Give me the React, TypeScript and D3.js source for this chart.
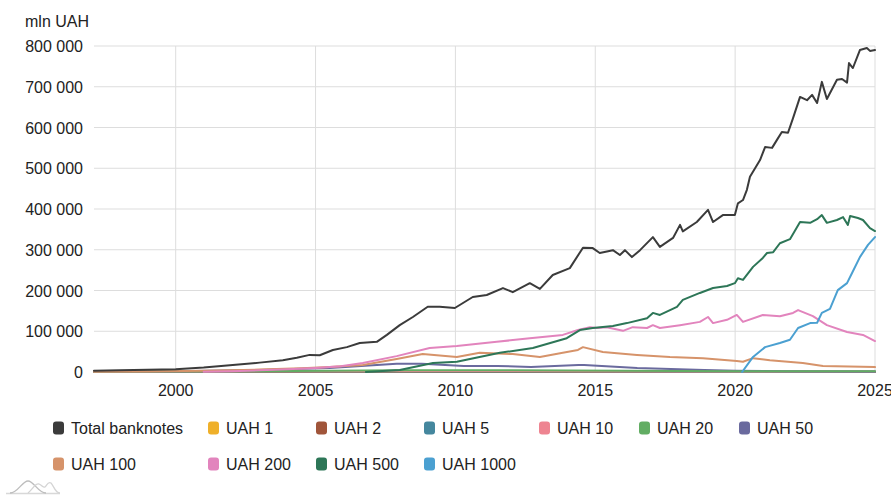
import React from "react";
import * as d3 from "d3";

// ---------- DATA (year, mln UAH) ----------
const totalBanknotes: [number, number][] = [
  [1997.08, 3000], [1998.0, 4500], [1999.0, 5500], [2000.0, 7000], [2001.0, 11000], [2002.04, 17000],
  [2003.0, 23000], [2003.83, 29000], [2004.33, 35000], [2004.79, 42000], [2005.15, 41000],
  [2005.62, 54000], [2006.12, 61000], [2006.58, 71000], [2007.19, 74000], [2007.55, 91000],
  [2008.01, 115000], [2008.48, 135000], [2009.01, 160000], [2009.44, 160000], [2009.98, 157000],
  [2010.62, 184000], [2011.12, 189000], [2011.7, 206000], [2012.05, 196000], [2012.66, 218000],
  [2013.02, 204000], [2013.48, 238000], [2014.09, 255000], [2014.56, 305000], [2014.91, 304000],
  [2015.16, 292000], [2015.63, 299000], [2015.88, 287000], [2016.06, 299000], [2016.31, 282000],
  [2016.6, 299000], [2017.06, 331000], [2017.31, 307000], [2017.78, 329000], [2018.03, 361000],
  [2018.13, 345000], [2018.63, 368000], [2019.03, 398000], [2019.21, 368000], [2019.56, 385000],
  [2019.99, 385000], [2020.1, 414000], [2020.28, 422000], [2020.42, 447000], [2020.53, 479000],
  [2020.89, 520000], [2021.07, 552000], [2021.32, 550000], [2021.49, 569000], [2021.67, 589000],
  [2021.89, 587000], [2022.07, 623000], [2022.32, 675000], [2022.57, 667000], [2022.75, 680000],
  [2022.93, 660000], [2023.1, 712000], [2023.28, 670000], [2023.64, 717000], [2023.82, 719000],
  [2024.0, 710000], [2024.07, 758000], [2024.21, 746000], [2024.46, 790000], [2024.71, 795000],
  [2024.82, 788000], [2025.0, 790000],
];
const uah1: [number, number][] = [
  [1997.08, 600], [2005.0, 700], [2010.0, 600], [2015.0, 400], [2020.0, 200], [2025.0, 100],
];
const uah2: [number, number][] = [
  [1997.08, 500], [2005.0, 600], [2010.0, 600], [2015.0, 500], [2020.0, 400], [2025.0, 300],
];
const uah5: [number, number][] = [
  [1997.08, 800], [2005.0, 1000], [2010.0, 1200], [2015.0, 1000], [2020.0, 800], [2025.0, 700],
];
const uah10: [number, number][] = [
  [1997.08, 1000], [2005.0, 2000], [2010.0, 2500], [2015.0, 2000], [2020.0, 1500], [2025.0, 1000],
];
const uah20: [number, number][] = [
  [1997.08, 1000], [2003.0, 2000], [2008.0, 4000], [2012.0, 4000], [2016.0, 3000], [2020.0, 2000], [2025.0, 2000],
];
const uah50: [number, number][] = [
  [1997.08, 500], [2000.0, 2000], [2003.0, 5000], [2005.5, 10000], [2007.9, 20000], [2008.8, 20000],
  [2010.3, 15000], [2011.5, 15000], [2012.7, 12000], [2014.4, 17000], [2014.6, 17000],
  [2016.5, 10000], [2018.9, 5000], [2020.0, 3000], [2022.0, 2000], [2025.0, 1500],
];
const uah100: [number, number][] = [
  [1997.08, 500], [1999.0, 1500], [2001.0, 3000], [2003.0, 6000], [2004.5, 9000], [2005.5, 12000],
  [2006.69, 17000], [2007.9, 32000], [2008.83, 44000], [2010.05, 37000], [2010.87, 47000],
  [2012.05, 44000], [2013.02, 37000], [2013.84, 47000], [2014.38, 54000], [2014.56, 61000],
  [2015.27, 49000], [2016.49, 42000], [2017.67, 37000], [2018.85, 34000], [2020.06, 27000],
  [2020.28, 25000], [2020.64, 34000], [2021.24, 29000], [2022.42, 22000], [2023.14, 15000],
  [2025.0, 12000],
];
const uah200: [number, number][] = [
  [2001.0, 500], [2002.0, 2000], [2003.0, 4000], [2004.0, 7000], [2005.0, 10000], [2005.9, 14000],
  [2006.69, 22000], [2007.9, 39000], [2009.08, 59000], [2010.05, 64000], [2011.48, 74000],
  [2012.66, 83000], [2013.84, 91000], [2014.38, 103000], [2014.81, 110000], [2015.06, 108000],
  [2015.41, 110000], [2015.99, 101000], [2016.34, 110000], [2016.85, 108000], [2017.06, 115000],
  [2017.31, 108000], [2018.03, 115000], [2018.74, 123000], [2019.03, 135000], [2019.21, 120000],
  [2019.71, 128000], [2020.06, 140000], [2020.28, 123000], [2020.99, 140000], [2021.6, 137000],
  [2022.07, 145000], [2022.25, 152000], [2022.78, 137000], [2023.28, 115000], [2024.0, 98000],
  [2024.57, 91000], [2025.0, 76000],
];
const uah500: [number, number][] = [
  [2006.8, 0], [2008.01, 5000], [2009.2, 22000], [2010.05, 25000], [2011.59, 47000],
  [2012.77, 59000], [2013.98, 83000], [2014.45, 103000], [2014.91, 108000], [2015.63, 113000],
  [2016.13, 120000], [2016.85, 132000], [2017.06, 145000], [2017.31, 140000],
  [2017.92, 160000], [2018.13, 177000], [2018.74, 194000], [2019.21, 206000], [2019.71, 211000],
  [2019.99, 218000], [2020.1, 230000], [2020.28, 226000], [2020.64, 258000], [2020.99, 280000],
  [2021.14, 292000], [2021.36, 294000], [2021.6, 316000], [2021.96, 326000], [2022.32, 368000],
  [2022.68, 366000], [2022.93, 375000], [2023.1, 385000], [2023.28, 366000], [2023.64, 373000],
  [2023.86, 380000], [2024.03, 361000], [2024.11, 383000], [2024.39, 378000], [2024.57, 373000],
  [2024.82, 353000], [2025.0, 346000],
];
const uah1000: [number, number][] = [
  [2020.25, 0], [2020.64, 37000], [2021.07, 61000], [2021.6, 71000], [2021.96, 79000],
  [2022.25, 108000], [2022.68, 120000], [2022.93, 121000], [2023.1, 145000], [2023.39, 155000],
  [2023.67, 201000], [2024.0, 218000], [2024.18, 243000], [2024.46, 282000], [2024.75, 312000],
  [2025.0, 331000],
];

const seriesNames = ["Total banknotes", "UAH 1", "UAH 2", "UAH 5", "UAH 10", "UAH 20", "UAH 50", "UAH 100", "UAH 200", "UAH 500", "UAH 1000"];
const seriesData = [totalBanknotes, uah1, uah2, uah5, uah10, uah20, uah50, uah100, uah200, uah500, uah1000];
const seriesColors = ["#3b3b3b", "#efb02a", "#a0553a", "#45879e", "#ee8491", "#62ad63", "#6a6a9e", "#d6936a", "#e284bd", "#2d7657", "#4ba0d1"];
const yTicks = [0, 100000, 200000, 300000, 400000, 500000, 600000, 700000, 800000];
const xTicks = [2000, 2005, 2010, 2015, 2020, 2025];
const yAxisTitle = "mln UAH";

// ---------- LAYOUT ----------
const W = 891, H = 500;
const FONT = "'Liberation Sans', Arial, sans-serif";
const legendCols = [53, 208, 316, 424, 539, 639, 739];
const legendRows = [428, 464];

export default function App() {
  const x = d3.scaleLinear().domain([1997.08, 2025]).range([94, 875]);
  const y = d3.scaleLinear().domain([0, 800000]).range([372, 46]);
  const line = d3.line<[number, number]>().x((d) => x(d[0])).y((d) => y(d[1]));
  const fmt = (v: number) => d3.format(",")(v).replace(/,/g, " ");

  const drawOrder = [1, 2, 3, 4, 6, 5, 7, 8, 9, 10, 0];

  return (
    <svg width={W} height={H} style={{ position: "absolute", left: 0, top: 0, fontFamily: FONT }}>
      <rect x={0} y={0} width={W} height={H} fill="#fff" />
      {/* grid */}
      {yTicks.map((t) => (
        <line key={"gy" + t} x1={94} x2={875} y1={y(t)} y2={y(t)} stroke="#dddddd" strokeWidth={1} />
      ))}
      {xTicks.map((t) => (
        <line key={"gx" + t} x1={x(t)} x2={x(t)} y1={46} y2={372} stroke="#dddddd" strokeWidth={1} />
      ))}
      {/* y labels */}
      <text x={25} y={27} fontSize={16} fill="#222">{yAxisTitle}</text>
      {yTicks.map((t) => (
        <text key={"ty" + t} x={83} y={y(t) + 6} fontSize={16} fill="#222" textAnchor="end">{fmt(t)}</text>
      ))}
      {xTicks.map((t) => (
        <text key={"tx" + t} x={x(t)} y={396} fontSize={16} fill="#222" textAnchor="middle">{t}</text>
      ))}
      {/* lines */}
      {drawOrder.map((i) => (
        <path key={"l" + i} d={line(seriesData[i]) || ""} fill="none" stroke={seriesColors[i]} strokeWidth={2} strokeLinejoin="round" strokeLinecap="round" />
      ))}
      {/* legend */}
      {seriesNames.map((name, i) => {
        const row = i < 7 ? 0 : 1;
        const col = i < 7 ? i : i - 7;
        const lx = legendCols[col];
        const ly = legendRows[row];
        return (
          <g key={"lg" + i}>
            <rect x={lx} y={ly - 6.5} width={11} height={13} rx={3} fill={seriesColors[i]} />
            <text x={lx + 18} y={ly + 6} fontSize={16} fill="#222">{name}</text>
          </g>
        );
      })}
      {/* logo */}
      <g>
        <line x1={6} x2={60} y1={493.5} y2={493.5} stroke="#d8d8d8" strokeWidth={1.5} />
        <path d="M10 493 C18 493 22 481 28 481 C34 481 38 493 46 493" fill="none" stroke="#bdbdbd" strokeWidth={1.3} />
        <path d="M28 493 C33 489 35 483 39 484 C42 485 43 488 45 487 C47 485 48 481 51 483 C54 486 55 493 60 493" fill="none" stroke="#d4d4d4" strokeWidth={1.3} />
      </g>
    </svg>
  );
}
